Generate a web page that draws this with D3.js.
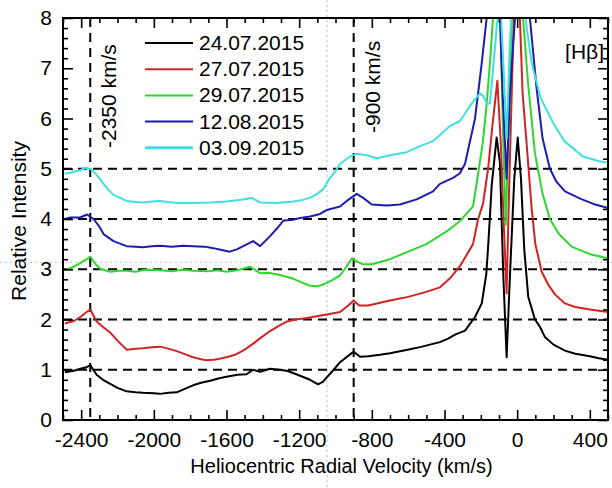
<!DOCTYPE html>
<meta charset="utf-8">
<head>
  <title>H-beta profiles</title>
</head>
<script src="https://d3js.org/d3.v7.min.js"></script>
<style>
  body { margin: 0; background: #fff; }
  text { font-family: "Liberation Sans", Arial, sans-serif; fill: #000; }
</style>
<body>
<div id="chart"></div>
<script>
// spectra: [velocity km/s, relative intensity]
var s0724 = [[-2490,0.95],[-2440,0.98],[-2405,1.02],[-2370,1.05],[-2350,1.09],[-2315,0.9],[-2280,0.8],[-2240,0.72],[-2200,0.64],[-2150,0.57],[-2100,0.55],[-2060,0.54],[-2000,0.53],[-1966,0.52],[-1920,0.54],[-1874,0.55],[-1830,0.62],[-1784,0.69],[-1740,0.74],[-1690,0.78],[-1640,0.83],[-1600,0.86],[-1540,0.9],[-1490,0.91],[-1453,1.0],[-1415,0.96],[-1360,1.02],[-1310,1.0],[-1268,0.98],[-1230,0.93],[-1195,0.88],[-1140,0.8],[-1096,0.71],[-1070,0.76],[-1048,0.85],[-1010,1.0],[-975,1.15],[-940,1.25],[-900,1.36],[-865,1.26],[-820,1.27],[-755,1.3],[-700,1.33],[-645,1.37],[-590,1.41],[-535,1.45],[-480,1.5],[-425,1.55],[-380,1.62],[-342,1.7],[-287,1.78],[-232,2.05],[-195,2.32],[-170,2.9],[-159,3.5],[-140,4.68],[-113,5.62],[-95,5.12],[-76,2.85],[-58,1.25],[-40,2.85],[-16,4.8],[3,5.62],[21,4.8],[39,3.4],[61,2.45],[98,2.0],[126,1.85],[153,1.65],[200,1.5],[263,1.38],[320,1.32],[400,1.27],[450,1.23],[500,1.2]];
var s0727 = [[-2490,1.92],[-2440,1.97],[-2405,2.05],[-2370,2.15],[-2350,2.2],[-2315,1.96],[-2280,1.85],[-2240,1.74],[-2200,1.58],[-2150,1.4],[-2100,1.42],[-2060,1.43],[-2010,1.45],[-1966,1.46],[-1920,1.42],[-1874,1.37],[-1830,1.31],[-1784,1.25],[-1740,1.21],[-1710,1.19],[-1670,1.2],[-1637,1.22],[-1590,1.26],[-1545,1.31],[-1500,1.4],[-1453,1.52],[-1410,1.64],[-1360,1.77],[-1310,1.88],[-1268,1.96],[-1220,2.0],[-1176,2.02],[-1110,2.06],[-1048,2.1],[-975,2.15],[-930,2.28],[-900,2.38],[-870,2.28],[-820,2.28],[-760,2.33],[-700,2.38],[-600,2.45],[-500,2.55],[-425,2.64],[-370,2.82],[-315,3.06],[-243,3.5],[-215,4.0],[-188,4.3],[-160,5.0],[-135,5.9],[-109,6.75],[-90,5.5],[-75,4.0],[-58,2.52],[-45,4.5],[-30,6.5],[-15,8.5],[0,9.5],[15,8.0],[30,6.5],[52,5.5],[80,4.2],[100,3.5],[135,2.95],[170,2.7],[208,2.5],[263,2.32],[320,2.25],[400,2.2],[500,2.15]];
var s0729 = [[-2490,2.98],[-2440,3.05],[-2405,3.12],[-2370,3.2],[-2350,3.25],[-2320,3.1],[-2295,3.01],[-2240,2.95],[-2190,2.97],[-2150,2.97],[-2100,2.95],[-2050,2.99],[-1966,2.98],[-1900,2.96],[-1840,2.99],[-1784,2.97],[-1700,2.96],[-1650,2.98],[-1600,2.95],[-1540,2.98],[-1470,3.05],[-1415,2.92],[-1370,2.93],[-1325,2.9],[-1280,2.86],[-1232,2.81],[-1180,2.73],[-1140,2.67],[-1100,2.66],[-1066,2.7],[-1020,2.78],[-975,2.88],[-940,3.05],[-910,3.22],[-880,3.15],[-850,3.1],[-800,3.1],[-700,3.2],[-600,3.35],[-500,3.5],[-425,3.67],[-370,3.8],[-315,3.96],[-243,4.25],[-215,4.9],[-190,5.5],[-170,6.2],[-150,7.1],[-133,8.0],[-115,9.0],[-95,8.5],[-80,6.0],[-63,3.88],[-45,6.0],[-25,8.5],[0,9.5],[32,8.0],[60,6.7],[98,5.3],[140,4.5],[180,4.0],[230,3.7],[300,3.45],[400,3.3],[500,3.22]];
var s0812 = [[-2490,4.0],[-2460,4.03],[-2405,4.03],[-2368,4.09],[-2332,4.0],[-2300,3.85],[-2277,3.7],[-2222,3.56],[-2150,3.46],[-2100,3.45],[-2060,3.44],[-2010,3.46],[-1966,3.47],[-1900,3.45],[-1840,3.47],[-1784,3.46],[-1720,3.45],[-1673,3.42],[-1620,3.38],[-1582,3.35],[-1540,3.4],[-1508,3.46],[-1453,3.56],[-1415,3.46],[-1360,3.66],[-1320,3.82],[-1287,3.97],[-1240,3.98],[-1195,4.02],[-1140,4.05],[-1085,4.1],[-1048,4.18],[-975,4.25],[-938,4.36],[-883,4.5],[-848,4.42],[-800,4.29],[-718,4.27],[-645,4.29],[-553,4.39],[-463,4.55],[-425,4.7],[-353,4.82],[-315,4.91],[-287,5.1],[-232,6.0],[-195,7.1],[-168,8.0],[-140,9.0],[-100,8.5],[-80,6.5],[-58,4.8],[-40,6.5],[-12,8.0],[20,9.5],[50,9.0],[70,8.0],[107,6.6],[140,5.6],[180,5.0],[215,4.75],[263,4.55],[350,4.4],[420,4.3],[500,4.22]];
var s0903 = [[-2490,4.9],[-2460,4.92],[-2405,4.97],[-2377,5.02],[-2350,5.0],[-2315,4.88],[-2277,4.7],[-2250,4.58],[-2222,4.48],[-2150,4.36],[-2100,4.34],[-2060,4.33],[-2010,4.35],[-1966,4.36],[-1920,4.34],[-1874,4.32],[-1784,4.32],[-1690,4.33],[-1600,4.35],[-1508,4.39],[-1462,4.42],[-1415,4.33],[-1325,4.32],[-1232,4.35],[-1180,4.38],[-1140,4.42],[-1100,4.5],[-1066,4.6],[-1030,4.82],[-1000,4.95],[-975,5.1],[-921,5.24],[-883,5.3],[-828,5.27],[-773,5.21],[-700,5.27],[-608,5.33],[-535,5.45],[-463,5.55],[-425,5.67],[-370,5.85],[-315,5.95],[-287,6.1],[-250,6.3],[-205,6.5],[-188,6.45],[-166,6.3],[-150,6.3],[-140,6.68],[-113,7.8],[-95,8.5],[-75,7.0],[-58,5.6],[-40,7.5],[-20,9.0],[10,9.5],[45,8.0],[80,7.1],[130,6.4],[200,5.9],[260,5.55],[360,5.25],[450,5.15],[500,5.12]];

var dates = ["24.07.2015", "27.07.2015", "29.07.2015", "12.08.2015", "03.09.2015"];
var colors = ["#000000", "#d02424", "#2fd62f", "#1c1cb0", "#3fe0e0"];
var series = [s0724, s0727, s0729, s0812, s0903];

var xMajor = [-2400, -2000, -1600, -1200, -800, -400, 0, 400];
var yMajor = [0, 1, 2, 3, 4, 5, 6, 7, 8];
var refLevels = [1, 2, 3, 4, 5];
var markVel = [-2350, -900];
var markText = ["-2350 km/s", "-900 km/s"];

var W = 612, H = 488;
var margin = { top: 18, right: 4, bottom: 68, left: 63 },
  width = W - margin.left - margin.right,
  height = H - margin.top - margin.bottom;

var svg = d3.select("#chart").append("svg")
  .attr("width", W).attr("height", H);

var x = d3.scaleLinear().domain([-2500, 500]).range([0, width]);
var y = d3.scaleLinear().domain([0, 8]).range([height, 0]);

// faint crosshair from the screenshot
svg.append("line")
  .attr("x1", margin.left + x(-1047)).attr("x2", margin.left + x(-1047))
  .attr("y1", 0).attr("y2", H)
  .attr("stroke", "#aaa").attr("stroke-width", 0.8).attr("stroke-dasharray", "2,3");
svg.append("line")
  .attr("x1", 0).attr("x2", W)
  .attr("y1", margin.top + y(3.14)).attr("y2", margin.top + y(3.14))
  .attr("stroke", "#aaa").attr("stroke-width", 0.8).attr("stroke-dasharray", "2,3");

var g = svg.append("g")
  .attr("transform", "translate(" + margin.left + "," + margin.top + ")");

g.append("clipPath").attr("id", "plotclip")
  .append("rect").attr("width", width).attr("height", height);

// reference dashed lines
g.selectAll(".hdash").data(refLevels).enter().append("line")
  .attr("x1", 0).attr("x2", width)
  .attr("y1", function (d) { return y(d) }).attr("y2", function (d) { return y(d) })
  .attr("stroke", "#000").attr("stroke-width", 2).attr("stroke-dasharray", "9,6");
g.selectAll(".vdash").data(markVel).enter().append("line")
  .attr("x1", function (d) { return x(d) }).attr("x2", function (d) { return x(d) })
  .attr("y1", 0).attr("y2", height)
  .attr("stroke", "#000").attr("stroke-width", 2).attr("stroke-dasharray", "9,6");

var line = d3.line()
  .x(function (d) { return x(d[0]) })
  .y(function (d) { return y(d[1]) });

g.append("g").attr("clip-path", "url(#plotclip)")
  .selectAll("path").data(series).enter().append("path")
  .attr("d", line)
  .attr("fill", "none")
  .attr("stroke", function (d, i) { return colors[i] })
  .attr("stroke-width", 2)
  .attr("stroke-linejoin", "round");

// axes with inward ticks
var xMinor = d3.range(-2500, 501, 100).filter(function (v) { return xMajor.indexOf(v) < 0 });
var yMinor = d3.range(0, 40).map(function (i) { return i * 0.2 }).filter(function (v, i) { return i % 5 != 0 });
var plain = function (d) { return String(d) };

function styleAxis(sel) {
  sel.select(".domain").remove();
  sel.selectAll("line").attr("stroke-width", 1.6);
  sel.selectAll("text").style("font-size", "21px").style("font-family", "Liberation Sans, Arial, sans-serif");
}

g.append("g").attr("transform", "translate(0," + height + ")")
  .call(d3.axisBottom(x).tickValues(xMajor).tickSize(-10).tickPadding(12).tickFormat(plain))
  .call(styleAxis);
g.append("g").attr("transform", "translate(0," + height + ")")
  .call(d3.axisBottom(x).tickValues(xMinor).tickSize(-5).tickFormat(""))
  .call(styleAxis);
g.append("g")
  .call(d3.axisTop(x).tickValues(xMajor).tickSize(-10).tickFormat(""))
  .call(styleAxis);
g.append("g")
  .call(d3.axisTop(x).tickValues(xMinor).tickSize(-5).tickFormat(""))
  .call(styleAxis);
g.append("g")
  .call(d3.axisLeft(y).tickValues(yMajor).tickSize(-10).tickPadding(11).tickFormat(plain))
  .call(styleAxis);
g.append("g")
  .call(d3.axisLeft(y).tickValues(yMinor).tickSize(-5).tickFormat(""))
  .call(styleAxis);
g.append("g").attr("transform", "translate(" + width + ",0)")
  .call(d3.axisRight(y).tickValues(yMajor).tickSize(-10).tickFormat(""))
  .call(styleAxis);
g.append("g").attr("transform", "translate(" + width + ",0)")
  .call(d3.axisRight(y).tickValues(yMinor).tickSize(-5).tickFormat(""))
  .call(styleAxis);

g.selectAll(".tick text").attr("fill", "#000");

// frame
g.append("rect").attr("width", width).attr("height", height)
  .attr("fill", "none").attr("stroke", "#000").attr("stroke-width", 2);

// axis titles
svg.append("text")
  .attr("x", margin.left + width / 2 + 6).attr("y", 473)
  .attr("text-anchor", "middle").style("font-size", "20px")
  .text("Heliocentric Radial Velocity (km/s)");
svg.append("text")
  .attr("transform", "translate(26," + (margin.top + 203) + ") rotate(-90)")
  .attr("text-anchor", "middle").style("font-size", "21px")
  .text("Relative Intensity");

// velocity marker labels
g.selectAll(".mtext").data(markVel).enter().append("text")
  .attr("transform", function (d, i) {
    return "translate(" + (x(d) + 26) + "," + (i == 0 ? 130 : 115) + ") rotate(-90)";
  })
  .style("font-size", "21px")
  .text(function (d, i) { return markText[i] });

// legend
var legend = g.append("g").attr("transform", "translate(82,25)");
var rows = legend.selectAll("g").data(dates).enter().append("g")
  .attr("transform", function (d, i) { return "translate(0," + (i * 26.2) + ")" });
rows.append("line")
  .attr("x1", 0).attr("x2", 48).attr("y1", 0).attr("y2", 0)
  .attr("stroke", function (d, i) { return colors[i] })
  .attr("stroke-width", function (d, i) { return i == 4 ? 3 : 2 });
rows.append("text")
  .attr("x", 54).attr("y", 7)
  .style("font-size", "21px")
  .text(function (d) { return d });

// line label
g.append("text")
  .attr("x", width - 4).attr("y", 41)
  .attr("text-anchor", "end").style("font-size", "21px")
  .text("[Hβ]");
</script>
</body>
